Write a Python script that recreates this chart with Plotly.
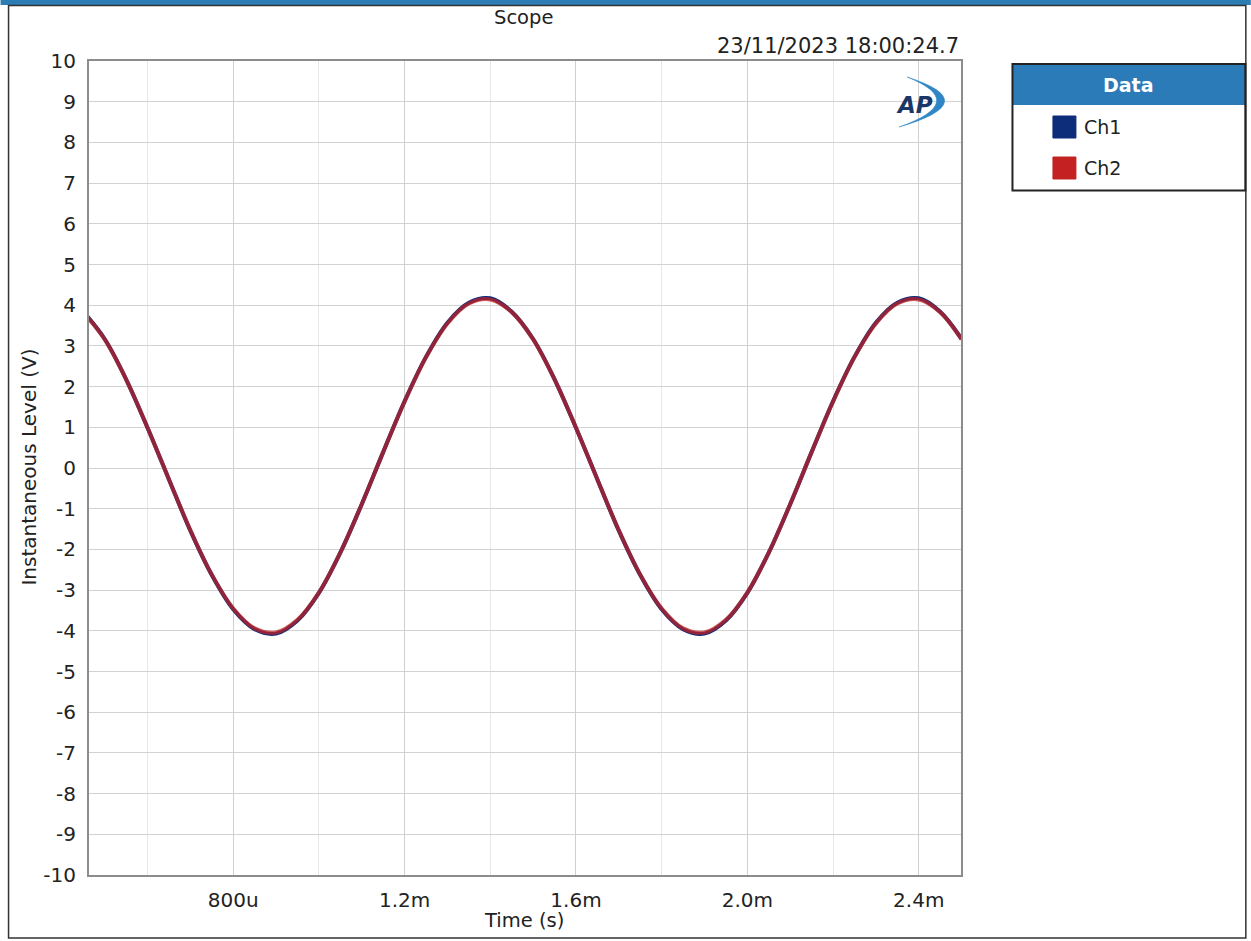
import plotly.graph_objects as go

# ---- data ----
time_ms = [0.45, 0.50, 0.55, 0.60, 0.65, 0.70, 0.75, 0.80, 0.85, 0.90,
           0.95, 1.00, 1.05, 1.10, 1.15, 1.20, 1.25, 1.30, 1.35, 1.40,
           1.45, 1.50, 1.55, 1.60, 1.65, 1.70, 1.75, 1.80, 1.85, 1.90,
           1.95, 2.00, 2.05, 2.10, 2.15, 2.20, 2.25, 2.30, 2.35, 2.40,
           2.45, 2.50]
ch1_v = [3.84, 3.17, 2.18, 0.99, -0.28, -1.54, -2.63, -3.47, -3.96, -4.07,
         -3.75, -3.07, -2.08, -0.89, 0.39, 1.64, 2.73, 3.57, 4.06, 4.17,
         3.84, 3.17, 2.18, 0.99, -0.28, -1.54, -2.63, -3.47, -3.96, -4.07,
         -3.75, -3.07, -2.08, -0.89, 0.39, 1.64, 2.73, 3.57, 4.06, 4.17,
         3.84, 3.17]
ch2_v = [3.83, 3.16, 2.18, 0.99, -0.28, -1.53, -2.62, -3.45, -3.94, -4.04,
         -3.73, -3.06, -2.08, -0.89, 0.39, 1.63, 2.72, 3.55, 4.04, 4.14,
         3.83, 3.16, 2.18, 0.99, -0.28, -1.53, -2.62, -3.45, -3.94, -4.04,
         -3.73, -3.06, -2.08, -0.89, 0.39, 1.63, 2.72, 3.55, 4.04, 4.14,
         3.83, 3.16]
series_names = ["Ch1", "Ch2"]
series_colors = ["#0D2C7A", "#C42222"]
x_tick_vals = [0.8, 1.2, 1.6, 2.0, 2.4]
x_tick_text = ["800u", "1.2m", "1.6m", "2.0m", "2.4m"]
y_tick_vals = [-10, -9, -8, -7, -6, -5, -4, -3, -2, -1, 0, 1, 2, 3, 4, 5, 6, 7, 8, 9, 10]
y_tick_text = ["-10", "-9", "-8", "-7", "-6", "-5", "-4", "-3", "-2", "-1", "0",
               "1", "2", "3", "4", "5", "6", "7", "8", "9", "10"]
x_range = [0.4634, 2.4987]
y_range = [-10, 10]
title_text = "Scope"
timestamp_text = "23/11/2023 18:00:24.7"
x_title = "Time (s)"
y_title = "Instantaneous Level (V)"
legend_title = "Data"

# ---- geometry (pixels) ----
W, H = 1251, 941
L, R, T, B = 88.5, 961.0, 61.0, 875.0

def px(x):
    return (x - L) / (R - L)

def py(y):
    return (B - y) / (B - T)

FONT = "DejaVu Sans"
TXT = "#222222"

fig = go.Figure()
fig.add_trace(go.Scatter(x=time_ms, y=ch1_v, mode="lines", name=series_names[0],
                         line=dict(color=series_colors[0], width=4.0, shape="spline"),
                         hoverinfo="skip"))
fig.add_trace(go.Scatter(x=time_ms, y=ch2_v, mode="lines", name=series_names[1],
                         line=dict(color=series_colors[1], width=4.0, shape="spline"),
                         opacity=0.72, hoverinfo="skip"))

shapes = []
annotations = []

# top blue bar and outer frame
shapes.append(dict(type="rect", xref="paper", yref="paper",
                   x0=px(0), x1=px(W), y0=py(5), y1=py(0),
                   fillcolor="#2D7DB5", line=dict(width=0), layer="below"))
shapes.append(dict(type="rect", xref="paper", yref="paper",
                   x0=px(8), x1=px(1246), y0=py(938), y1=py(5.5),
                   fillcolor="rgba(0,0,0,0)", line=dict(color="#333333", width=1.5)))

# legend box
lx0, lx1, ly0, ly1, lhead = 1012.5, 1245.5, 64, 190.5, 105
shapes.append(dict(type="rect", xref="paper", yref="paper",
                   x0=px(lx0), x1=px(lx1), y0=py(lhead), y1=py(ly0),
                   fillcolor="#2B7BB8", line=dict(width=0)))
shapes.append(dict(type="rect", xref="paper", yref="paper",
                   x0=px(lx0), x1=px(lx1), y0=py(ly1), y1=py(ly0),
                   fillcolor="rgba(0,0,0,0)", line=dict(color="#222222", width=2)))
annotations.append(dict(text="<b>" + legend_title + "</b>", xref="paper", yref="paper",
                        x=px((lx0 + lx1) / 2), y=py(85), xanchor="center", yanchor="middle",
                        showarrow=False, font=dict(family=FONT, size=19, color="white")))
for i, (nm, col) in enumerate(zip(series_names, series_colors)):
    cy = 127 + i * 41
    shapes.append(dict(type="rect", xref="paper", yref="paper",
                       x0=px(1053), x1=px(1076), y0=py(cy + 11), y1=py(cy - 11),
                       fillcolor=col, line=dict(color=col, width=1)))
    annotations.append(dict(text=nm, xref="paper", yref="paper",
                            x=px(1082), y=py(cy), xanchor="left", yanchor="middle",
                            showarrow=False, font=dict(family=FONT, size=19, color=TXT)))

# AP logo (decoration)
ax, ay = px(907), py(77)
cx2, cy2 = px(899), py(127)
ox, oy = px(986), py(102)
ix, iy = px(970), py(102)
shapes.append(dict(type="path", xref="paper", yref="paper",
                   path=f"M{ax},{ay} Q{ox},{oy} {cx2},{cy2} Q{ix},{iy} {ax},{ay} Z",
                   fillcolor="#2E86C4", line=dict(color="#2E86C4", width=0.5)))
annotations.append(dict(text="<b><i>AP</i></b>", xref="paper", yref="paper",
                        x=px(914), y=py(105), xanchor="center", yanchor="middle",
                        showarrow=False, font=dict(family="DejaVu Sans", size=23, color="#1B3768")))

# titles
annotations.append(dict(text=title_text, xref="paper", yref="paper",
                        x=px(523), y=py(17), xanchor="center", yanchor="middle",
                        showarrow=False, font=dict(family=FONT, size=19.5, color=TXT)))
annotations.append(dict(text=timestamp_text, xref="paper", yref="paper",
                        x=px(961), y=py(46), xanchor="right", yanchor="middle",
                        showarrow=False, font=dict(family=FONT, size=21, color=TXT)))
annotations.append(dict(text=x_title, xref="paper", yref="paper",
                        x=px(524), y=py(920), xanchor="center", yanchor="middle",
                        showarrow=False, font=dict(family=FONT, size=19.5, color=TXT)))
annotations.append(dict(text=y_title, xref="paper", yref="paper",
                        x=px(28), y=py(467), xanchor="center", yanchor="middle",
                        textangle=-90, showarrow=False,
                        font=dict(family=FONT, size=20, color=TXT)))

fig.update_layout(
    width=W, height=H,
    margin=dict(l=L, r=W - R, t=T, b=H - B),
    paper_bgcolor="white", plot_bgcolor="white",
    showlegend=False,
    font=dict(family=FONT, size=20, color=TXT),
    shapes=shapes, annotations=annotations,
    xaxis=dict(range=x_range, tickmode="array", tickvals=x_tick_vals, ticktext=x_tick_text,
               showgrid=True, gridcolor="#CFCFCF", gridwidth=1.2,
               minor=dict(tickmode="linear", tick0=0, dtick=0.2, showgrid=True,
                          gridcolor="#E6E6E6", gridwidth=1),
               showline=True, mirror=True, linecolor="#8C8C8C", linewidth=2,
               ticks="", ticklabelstandoff=6, zeroline=False,
               tickfont=dict(family=FONT, size=20, color=TXT)),
    yaxis=dict(range=y_range, tickmode="array", tickvals=y_tick_vals, ticktext=y_tick_text,
               showgrid=True, gridcolor="#D2D2D2", gridwidth=1.2,
               showline=True, mirror=True, linecolor="#8C8C8C", linewidth=2,
               ticks="", ticklabelstandoff=7, zeroline=False,
               tickfont=dict(family=FONT, size=20, color=TXT)),
)

fig.write_html("out.html", config={"displayModeBar": False},
               post_script="document.body.style.margin='0';")
